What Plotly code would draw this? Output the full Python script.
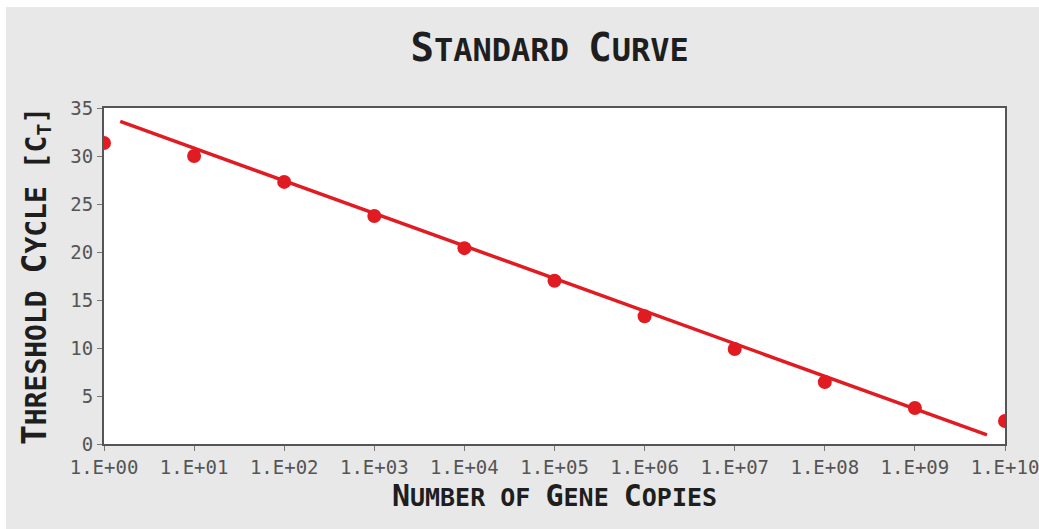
import plotly.graph_objects as go

# qPCR standard curve: Ct value measured at each dilution
gene_copies = [1e0, 1e1, 1e2, 1e3, 1e4, 1e5, 1e6, 1e7, 1e8, 1e9, 1e10]
ct_values = [31.35, 30.0, 27.3, 23.75, 20.4, 17.0, 13.3, 9.9, 6.45, 3.75, 2.4]

# regression line end points
fit_copies = [10 ** 0.18, 10 ** 9.8]
fit_ct = [33.6, 0.95]

tick_vals = [1e0, 1e1, 1e2, 1e3, 1e4, 1e5, 1e6, 1e7, 1e8, 1e9, 1e10]
tick_text = ["1.E+00", "1.E+01", "1.E+02", "1.E+03", "1.E+04", "1.E+05",
             "1.E+06", "1.E+07", "1.E+08", "1.E+09", "1.E+10"]
y_ticks = [0, 5, 10, 15, 20, 25, 30, 35]

RED = "#e11b22"
MONO = "DejaVu Sans Mono"
W, H = 1039, 529
L, R, T, B = 104, 34, 108, 85


def sc(big_part, small_part, big, small):
    """Small-caps style word: large initial followed by smaller capitals."""
    out = ""
    if big_part:
        out += f"<span style='font-size:{big}px'>{big_part}</span>"
    if small_part:
        out += f"<span style='font-size:{small}px'>{small_part}</span>"
    return out


title_txt = sc("S", "TANDARD", 39, 32) + " " + sc("C", "URVE", 39, 32)
xtitle_txt = " ".join([sc("N", "UMBER", 30, 25), sc("", "OF", 30, 25),
                       sc("G", "ENE", 30, 25), sc("C", "OPIES", 30, 25)])
ytitle_txt = " ".join([sc("T", "HRESHOLD", 33, 28), sc("C", "YCLE", 33, 28),
                       sc("", "[C<sub>T</sub>]", 33, 28)])

fig = go.Figure()
fig.add_trace(go.Scatter(
    x=fit_copies, y=fit_ct, mode="lines",
    line=dict(color=RED, width=3.5), hoverinfo="skip",
))
fig.add_trace(go.Scatter(
    x=gene_copies, y=ct_values, mode="markers",
    marker=dict(color=RED, size=14),
))

# thin white border along the top and left of the page
pw, ph = W - L - R, H - T - B
fig.add_shape(type="rect", xref="paper", yref="paper", layer="below",
              x0=-L / pw, x1=(W - L) / pw, y0=1 + (T - 7) / ph, y1=1 + T / ph,
              fillcolor="white", line_width=0)
fig.add_shape(type="rect", xref="paper", yref="paper", layer="below",
              x0=-L / pw, x1=(6 - L) / pw, y0=-B / ph, y1=1 + T / ph,
              fillcolor="white", line_width=0)

axis_common = dict(
    tickfont=dict(family=MONO, size=19, color="#555555"),
    ticks="outside", ticklen=5, tickcolor="#777777",
    showgrid=False, zeroline=False, automargin=False,
    ticklabeloverflow="allow",
    showline=True, linecolor="#555555", linewidth=2, mirror=True,
)

fig.update_layout(
    width=W, height=H,
    margin=dict(l=L, r=R, t=T, b=B),
    paper_bgcolor="#e8e8e8",
    plot_bgcolor="#ffffff",
    showlegend=False,
    title=dict(
        text="<b>" + title_txt + "</b>",
        x=0.529, xanchor="center", y=0.905, yanchor="middle",
        font=dict(family=MONO, size=32, color="#1e1e1e"),
    ),
    xaxis=dict(
        type="log", range=[0, 10],
        tickvals=tick_vals, ticktext=tick_text,
        title=dict(
            text="<b>" + xtitle_txt + "</b>",
            font=dict(family=MONO, size=25, color="#1e1e1e"),
            standoff=12,
        ),
        **axis_common,
    ),
    yaxis=dict(
        range=[0, 35], tickvals=y_ticks,
        title=dict(
            text="<b>" + ytitle_txt + "</b>",
            font=dict(family=MONO, size=28, color="#1e1e1e"),
            standoff=16,
        ),
        **axis_common,
    ),
)

fig.write_html("out.html")
